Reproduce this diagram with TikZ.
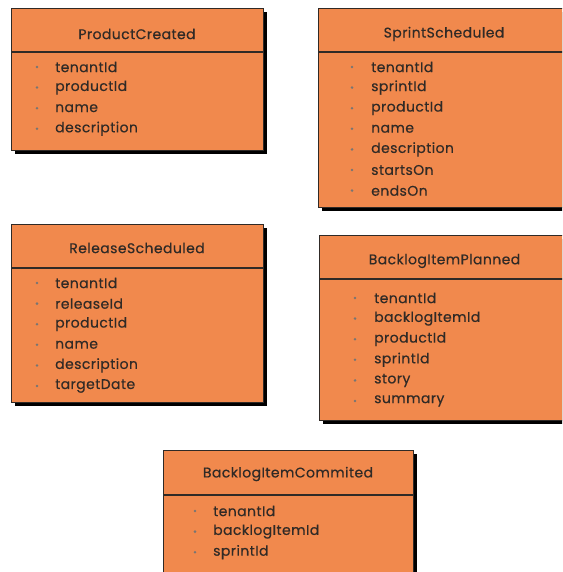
\documentclass[tikz,border=0pt]{standalone}
\usepackage{fontspec}
\setmainfont{Poppins}[FakeBold=0.4, LetterSpace=3]
\definecolor{evfill}{RGB}{241,137,77}
\definecolor{evink}{RGB}{48,42,38}
\tikzset{
  evshadow/.style={fill=black, draw=none},
  evbody/.style={fill=evfill, draw=evink, line width=0.9pt},
  evrule/.style={draw=evink, line width=1.6pt},
  evtitle/.style={font=\fontsize{14}{16}\selectfont, text=evink, inner sep=0pt},
  evitem/.style={font=\fontsize{14}{16}\selectfont, text=evink, anchor=west, inner sep=0pt},
  evdot/.style={circle, fill=evink!65, draw=none, inner sep=0pt, minimum size=2.8pt},
}
% \evbox{name}{x0}{y0}{x1}{y1}{divider y}{title y}{title}
\newcommand\evbox[8]{%
  \fill[evshadow] (#2+4,#3+4) rectangle (#4+4,#5+4);
  \draw[evbody] (#2,#3) rectangle (#4,#5);
  \draw[evrule] (#2,#6) -- (#4,#6);
  \node[evtitle] (#1-title) at ({(#2+#4)/2},#7) {#8};
}
% \evitems{name}{bullet x}{text x}{first y}{list}
\newcommand\evitems[5]{%
  \foreach \t [count=\i] in {#5} {
    \node[evdot] (#1-dot-\i) at (#2,{#4+(\i-1)*20.6}) {};
    \node[evitem] (#1-item-\i) at (#3,{#4+(\i-1)*20.6}) {\t};
  }
}
\begin{document}
\begin{tikzpicture}[x=1pt,y=-1pt]
  \useasboundingbox (0,0) rectangle (562,572);
  \clip (0,0) rectangle (562,572);
  \fill[white] (0,0) rectangle (562,572);

  % ProductCreated
  \evbox{pc}{11}{8}{263}{150}{52}{34}{ProductCreated}
  \evitems{pc}{37}{55}{67}{tenantId,productId,name,description}

  % SprintScheduled
  \evbox{ss}{318}{8}{570}{207}{52}{34}{SprintScheduled}
  \evitems{ss}{352}{371}{67}{tenantId,sprintId,productId,name,description,startsOn,endsOn}

  % ReleaseScheduled
  \evbox{rs}{11}{224}{263}{402}{268}{248}{ReleaseScheduled}
  \evitems{rs}{37}{55}{283}{tenantId,releaseId,productId,name,description,targetDate}

  % BacklogItemPlanned
  \evbox{bp}{319}{235}{570}{420}{279}{261}{BacklogItemPlanned}
  \evitems{bp}{355}{374}{298}{tenantId,backlogItemId,productId,sprintId,story,summary}

  % BacklogItemCommited
  \evbox{bc}{163}{450}{413}{580}{495}{474}{BacklogItemCommited}
  \evitems{bc}{195}{213}{511}{tenantId,backlogItemId,sprintId}
\end{tikzpicture}
\end{document}
